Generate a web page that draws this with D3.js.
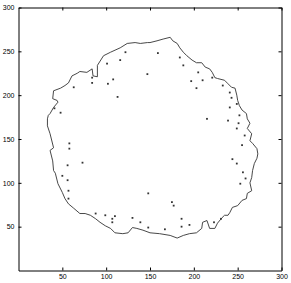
<!DOCTYPE html>
<meta charset="utf-8">
<style>
body { margin: 0; background: #fff; }
.axis text { font-family: "Liberation Sans", Arial, sans-serif; font-size: 7px; fill: #000; }
.axis path, .axis line { stroke: #000; }
.contour { fill: none; stroke: #333; stroke-width: 0.9; stroke-linejoin: miter; }
.speck { fill: #333; }
</style>
<svg width="291" height="283"></svg>
<script src="https://cdn.jsdelivr.net/npm/d3@7"></script>
<script>

// boundary of the region, in data units, traced clockwise from the top-left
var edgeX = [124,133,139,147,150,158,165,173,176,181,184,188,192,198,203,209,213,218,221,224,227,235,239,243,247,249,250,252,255,260,261,264,261,266,264,267,272,273,272,269,267,266,264,266,261,260,255,250,244,241,239,235,232,227,224,218,215,210,209,203,195,188,181,173,161,150,142,135,130,125,119,110,105,99,93,88,82,76,70,63,57,53,50,45,42,40,39,36,40,36,33,33,34,36,40,45,44,39,40,48,53,57,61,67,70,78,84,85,90,90,97,105,116];
var edgeY = [259,260,259,260,260,262,264,266,262,259,254,249,245,240,237,237,232,230,226,220,219,217,213,209,208,200,194,188,183,179,173,168,162,156,148,145,139,133,128,122,114,106,100,91,88,82,80,74,72,66,63,63,60,54,48,48,57,55,48,43,42,40,37,40,42,43,46,48,49,43,42,43,48,51,55,59,63,65,65,71,76,82,89,99,111,114,125,137,140,156,165,173,177,179,186,192,194,196,205,208,211,214,222,225,227,226,230,222,221,234,245,249,254];

// isolated specks inside the boundary
var dotX = [122,116,101,108,102,113,147,84,84,63,48,41,58,58,159,184,188,205,197,203,210,221,233,241,243,241,249,215,239,252,251,249,258,255,73,56,50,56,57,57,148,88,99,107,107,110,130,139,148,175,177,186,195,186,167,223,231,244,249,256,253,259];
var dotY = [249,240,236,218,213,198,224,214,220,209,180,185,145,139,248,243,234,226,216,208,217,220,211,203,197,186,190,173,171,177,168,162,154,143,123,120,108,103,91,82,88,65,63,59,55,62,60,55,49,78,74,59,52,50,47,55,59,127,122,112,99,105];

var xTicks = [50,100,150,200,250,300];
var yTicks = [50,100,150,200,250,300];

var svg = d3.select("svg"),
    mLeft = 18.5, mRight = 281.5, mTop = 7.5, mBottom = 270.5;

var x = d3.scaleLinear().domain([0, 300]).range([mLeft, mRight]);
var y = d3.scaleLinear().domain([0, 300]).range([mBottom, mTop]);

svg.append("g").attr("class", "axis")
    .attr("transform", "translate(0," + mBottom + ")")
    .call(d3.axisBottom(x).tickValues(xTicks).tickSizeInner(-3).tickSizeOuter(0).tickPadding(4));

svg.append("g").attr("class", "axis")
    .attr("transform", "translate(0," + mTop + ")")
    .call(d3.axisTop(x).tickValues(xTicks).tickSizeInner(-3).tickSizeOuter(0).tickFormat(""));

svg.append("g").attr("class", "axis")
    .attr("transform", "translate(" + mLeft + ",0)")
    .call(d3.axisLeft(y).tickValues(yTicks).tickSizeInner(-3).tickSizeOuter(0).tickPadding(4));

svg.append("g").attr("class", "axis")
    .attr("transform", "translate(" + mRight + ",0)")
    .call(d3.axisRight(y).tickValues(yTicks).tickSizeInner(-3).tickSizeOuter(0).tickFormat(""));

var pts = edgeX.map(function(d, i) { return [d, edgeY[i]]; });
pts.push(pts[0]);

var line = d3.line()
    .x(function(d) { return x(d[0]); })
    .y(function(d) { return y(d[1]); });

svg.append("path")
    .datum(pts)
    .attr("class", "contour")
    .attr("d", line);

svg.selectAll(".speck")
    .data(dotX)
    .enter().append("rect")
    .attr("class", "speck")
    .attr("x", function(d) { return x(d) - 0.9; })
    .attr("y", function(d, i) { return y(dotY[i]) - 0.9; })
    .attr("width", 1.8)
    .attr("height", 1.8);

</script>
